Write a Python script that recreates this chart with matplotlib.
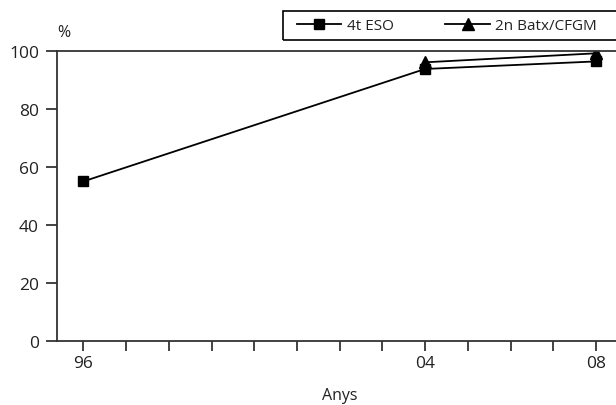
import matplotlib
matplotlib.use('Agg')
import matplotlib.pyplot as plt
from matplotlib.patches import Rectangle

years_eso = [1996, 2004, 2008]
eso = [55, 93.8, 96.4]
years_batx = [2004, 2008]
batx = [96.1, 99.2]

x_ticks = list(range(1996, 2009))
x_labels = ['96' if y == 1996 else '04' if y == 2004 else '08' if y == 2008 else '' for y in x_ticks]
y_ticks = [0, 20, 40, 60, 80, 100]

plt.rcParams['font.family'] = ['Open Sans', 'DejaVu Sans']

W, H = 616, 406
fig = plt.figure(figsize=(W / 100, H / 100), dpi=100)
ax = fig.add_axes([57 / W, 1 - 341.7 / H, 1 - 57 / W, (341.7 - 52) / H])

ax.plot(years_eso, eso, color='black', lw=1.3, marker='s', ms=7.5, label='4t ESO')
ax.plot(years_batx, batx, color='black', lw=1.3, marker='^', ms=8, label='2n Batx/CFGM')

ax.set_xlim(1995.38, 2008.47)
ax.set_ylim(0, 100)
ax.set_xticks(x_ticks)
ax.set_xticklabels(x_labels)
ax.set_yticks(y_ticks)

ax.spines['right'].set_visible(False)
for side in ['left', 'bottom', 'top']:
    ax.spines[side].set_color('#333333')
    ax.spines[side].set_linewidth(1.3)
ax.tick_params(axis='both', direction='out', length=8, width=1.2, color='#222222',
               labelsize=12.5, labelcolor='#222222', pad=5)
ax.tick_params(axis='x', length=7, pad=3)
ax.tick_params(axis='y', pad=5)

fig.text(64 / W, 1 - 33 / H, '%', ha='center', va='center', fontsize=11.5, color='#222222')
fig.text(340 / W, 1 - 396 / H, 'Anys', ha='center', va='center', fontsize=11.5, color='#222222')

# legend box running off the right edge
fig.patches.append(Rectangle((283 / W, 1 - 40.7 / H), 400 / W, 28.7 / H,
                             transform=fig.transFigure, fill=False, edgecolor='black', lw=1.2))
fig.legend(loc='center left', bbox_to_anchor=(297 / W, 1 - 26.5 / H), ncol=2, frameon=False,
           fontsize=11, handlelength=2.9, handletextpad=0.35, columnspacing=3.4,
           borderaxespad=0, borderpad=0, labelcolor='#222222')

fig.savefig('out.png', dpi=100)
